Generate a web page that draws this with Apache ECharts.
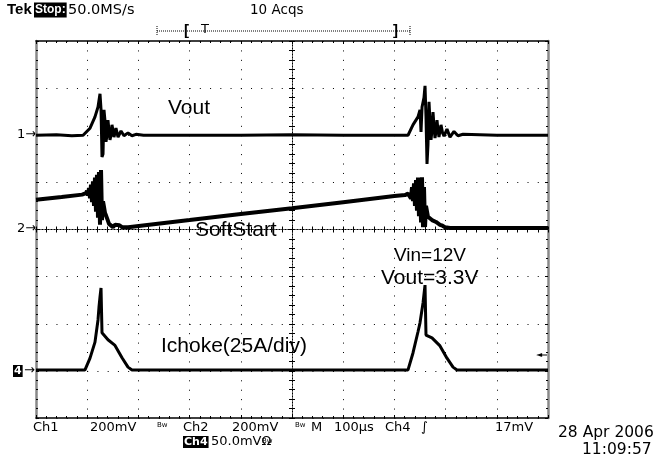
<!DOCTYPE html>
<html><head><meta charset="utf-8">
<script src="https://cdn.jsdelivr.net/npm/echarts@6/dist/echarts.min.js"></script>
<style>html,body{margin:0;padding:0;background:#fff}#c{width:663px;height:455px}</style>
</head><body><div id="c"></div>
<script>
// Screen divisions: x -5..5 (100 µs/div), y -4..4
const vout = [[-5,2.0],[-4.6,2.01],[-4.3,1.99],[-4.08,2.0],[-3.945,2.15],[-3.848,2.39],[-3.789,2.6],[-3.77,2.62],[-3.75,2.88],[-3.73,2.55],[-3.711,1.54],[-3.691,1.6],[-3.672,2.54],[-3.652,2.3],[-3.633,1.86],[-3.613,2.0],[-3.594,2.32],[-3.574,2.1],[-3.555,1.9],[-3.535,2.0],[-3.516,2.22],[-3.496,2.1],[-3.477,1.96],[-3.438,2.15],[-3.398,1.96],[-3.34,2.09],[-3.281,1.99],[-3.203,2.05],[-3.125,1.99],[-3.047,2.02],[-2.9,2.0],[-1,2.0],[0,2.01],[1,2.0],[2.266,2.0],[2.363,2.22],[2.461,2.39],[2.5,2.54],[2.52,2.07],[2.54,2.6],[2.578,2.8],[2.598,3.05],[2.617,2.4],[2.637,1.39],[2.656,1.8],[2.676,2.71],[2.695,2.3],[2.715,1.9],[2.734,2.1],[2.754,2.49],[2.773,2.2],[2.793,1.94],[2.813,2.1],[2.832,2.32],[2.852,2.1],[2.871,1.96],[2.891,2.1],[2.91,2.22],[2.94,2.05],[2.969,1.98],[3.027,2.13],[3.086,1.96],[3.164,2.08],[3.242,1.99],[3.34,2.02],[4,2.0],[5,2.0]];
const softStart = [[-5,0.63],[-4.5,0.69],[-4.1,0.74],[-4.023,0.77],[-4.004,0.82],[-3.984,0.72],[-3.965,0.88],[-3.945,0.66],[-3.926,0.95],[-3.906,0.58],[-3.887,1.02],[-3.867,0.5],[-3.848,1.1],[-3.828,0.38],[-3.809,1.16],[-3.789,0.25],[-3.77,1.22],[-3.75,0.1],[-3.73,1.26],[-3.711,0.2],[-3.691,0.6],[-3.672,0.48],[-3.652,0.35],[-3.633,0.3],[-3.613,0.24],[-3.594,0.2],[-3.574,0.12],[-3.555,0.16],[-3.535,0.08],[-3.496,0.05],[-3.457,0.1],[-3.418,0.06],[-3.37,0.09],[-3.32,0.05],[-3.2,0.05],[-2,0.2],[-1,0.33],[0,0.45],[1,0.58],[2,0.71],[2.207,0.73],[2.266,0.76],[2.285,0.72],[2.305,0.8],[2.324,0.66],[2.344,0.9],[2.363,0.6],[2.383,0.98],[2.402,0.5],[2.422,1.05],[2.441,0.4],[2.461,1.1],[2.48,0.28],[2.5,1.08],[2.52,0.15],[2.539,1.11],[2.559,0.05],[2.578,0.9],[2.598,0.05],[2.617,0.5],[2.656,0.27],[2.695,0.3],[2.734,0.2],[2.773,0.22],[2.813,0.16],[2.852,0.13],[2.891,0.1],[2.94,0.08],[2.988,0.05],[3.086,0.03],[4,0.03],[5,0.03]];
const ichoke = [[-5,-2.98],[-4.5,-2.98],[-4.043,-2.98],[-3.945,-2.73],[-3.848,-2.39],[-3.789,-1.92],[-3.77,-1.65],[-3.75,-1.43],[-3.73,-1.24],[-3.711,-2.19],[-3.594,-2.34],[-3.457,-2.46],[-3.32,-2.72],[-3.203,-2.92],[-3.125,-2.98],[0,-2.98],[2.266,-2.98],[2.363,-2.62],[2.461,-2.17],[2.5,-1.98],[2.559,-1.56],[2.598,-1.18],[2.617,-2.24],[2.734,-2.3],[2.891,-2.47],[3.027,-2.73],[3.145,-2.92],[3.223,-2.98],[5,-2.98]];
const traceLabels = ['Vout','SoftStart','Vin=12V','Vout=3.3V','Ichoke(25A/div)'];

const chart = echarts.init(document.getElementById('c'), null, {renderer:'canvas'});
const LF = '"Liberation Sans", Arial, sans-serif';
const DF = '"DejaVu Sans", sans-serif';
const noLabel = {show:false};
function edgeX(pos, color, width){
  return {type:'value', min:-5, max:5, interval:1, position:pos,
    axisLine:{onZero:false, lineStyle:{color:color, width:width}},
    axisTick:{show:true, inside:true, length:3, lineStyle:{color:'#000'}},
    minorTick:{show:true, splitNumber:5, length:2, lineStyle:{color:'#000'}},
    axisLabel:noLabel, splitLine:{show:false}};
}
function edgeY(pos, color, width){
  return {type:'value', min:-4, max:4, interval:1, position:pos,
    axisLine:{onZero:false, lineStyle:{color:color, width:width}},
    axisTick:{show:true, inside:true, length:3, lineStyle:{color:'#000'}},
    minorTick:{show:true, splitNumber:5, length:2, lineStyle:{color:'#000'}},
    axisLabel:noLabel, splitLine:{show:false}};
}
function centerX(inside){
  return {type:'value', min:-5, max:5, interval:1, position:'bottom',
    axisLine:{onZero:true, onZeroAxisIndex:0, lineStyle:{color:'#000', width:1, type:[1,2]}},
    axisTick:{show:true, inside:inside, length:3, lineStyle:{color:'#000'}},
    minorTick:{show:true, splitNumber:5, length:3, lineStyle:{color:'#000'}},
    axisLabel:noLabel, splitLine:{show:false}};
}
function centerY(inside){
  return {type:'value', min:-4, max:4, interval:1, position:'left',
    axisLine:{onZero:true, onZeroAxisIndex:0, lineStyle:{color:'#000', width:1, type:[1,2]}},
    axisTick:{show:true, inside:inside, length:3, lineStyle:{color:'#000'}},
    minorTick:{show:true, splitNumber:5, length:3, lineStyle:{color:'#000'}},
    axisLabel:noLabel, splitLine:{show:false}};
}
const x0 = edgeX('bottom','#000',1.5);
x0.splitLine = {show:true, lineStyle:{color:'#000', width:1, type:[1,8.425]}};
const y0 = edgeY('left','#888',2.5);
y0.splitLine = {show:true, lineStyle:{color:'#000', width:1, type:[1,9.24]}};

function txt(x, y, s, size, extra){
  return {type:'text', x:x, y:y, silent:true,
    style:Object.assign({text:s, fill:'#000', fontSize:size, fontFamily:LF, verticalAlign:'middle', align:'left'}, extra||{})};
}
const inv = {fill:'#fff', backgroundColor:'#000', padding:[1,1,0,1]};
const dj = {fontFamily:DF};

const option = {
  animation:false,
  backgroundColor:'#fff',
  grid:{left:36, top:41, width:512, height:377, containLabel:false},
  xAxis:[x0, edgeX('top','#000',1.5), centerX(true), centerX(false)],
  yAxis:[y0, edgeY('right','#888',2.5), centerY(true), centerY(false)],
  series:[
    {type:'line', data:vout, showSymbol:false, lineStyle:{color:'#000', width:3}, z:5},
    {type:'line', data:softStart, showSymbol:false, lineStyle:{color:'#000', width:4}, z:5},
    {type:'line', data:ichoke, showSymbol:false, lineStyle:{color:'#000', width:3}, z:5}
  ],
  graphic:[
    txt(168,108,traceLabels[0],21),
    txt(195,230,traceLabels[1],21),
    txt(394,256,traceLabels[2],19),
    txt(381,278,traceLabels[3],21),
    txt(161,346,traceLabels[4],21),
    // header
    txt(7,10,'Tek',15,{fontWeight:'bold'}),
    txt(34,10,'Stop:',12,Object.assign({fontWeight:'bold'},{fill:'#fff', backgroundColor:'#000', padding:[2,1,1,1]})),
    txt(68,10,'50.0MS/s',14.5,dj),
    txt(250,10,'10 Acqs',13.5,dj),
    {type:'line', silent:true, shape:{x1:157,y1:31,x2:410,y2:31}, style:{stroke:'#000', lineWidth:1, lineDash:[1,1]}},
    {type:'line', silent:true, shape:{x1:157,y1:26,x2:157,y2:36}, style:{stroke:'#000', lineWidth:1, lineDash:[1,1]}},
    {type:'line', silent:true, shape:{x1:410,y1:26,x2:410,y2:36}, style:{stroke:'#000', lineWidth:1, lineDash:[1,1]}},
    txt(184,31,'[',15,{fontWeight:'bold'}),
    txt(201,30,'T',13,dj),
    txt(393,31,']',15,{fontWeight:'bold'}),
    // channel markers
    txt(17,135,'1\u2192',13,dj),
    txt(17,229,'2\u2192',13,dj),
    txt(13,371,'4',11,Object.assign({fontWeight:'bold',fontFamily:DF},inv)),
    txt(24,371,'\u2192',13,dj),
    txt(536,355,'\u25C4',8,dj),
    {type:'line', silent:true, shape:{x1:542,y1:355,x2:547,y2:355}, style:{stroke:'#000', lineWidth:1}},
    // footer
    txt(33,428,'Ch1',13,dj),
    txt(90,428,'200mV',13,dj),
    txt(157,425,'Bw',7,dj),
    txt(183,428,'Ch2',13,dj),
    txt(232,428,'200mV',13,dj),
    txt(295,425,'Bw',7,dj),
    txt(311,428,'M',13,dj),
    txt(334,428,'100\u00B5s',13,dj),
    txt(385,428,'Ch4',13,dj),
    txt(421,428,'\u222B',13,dj),
    txt(495,428,'17mV',13,dj),
    txt(183,442,'Ch4',11,Object.assign({fontWeight:'bold',fontFamily:DF},inv)),
    txt(211,442,'50.0mV\u03A9',13,dj),
    txt(262,441,'Bw',7,dj),
    txt(558,433,'28 Apr 2006',15.5,dj),
    txt(582,450,'11:09:57',15.5,dj)
  ]
};
chart.setOption(option);
</script></body></html>
